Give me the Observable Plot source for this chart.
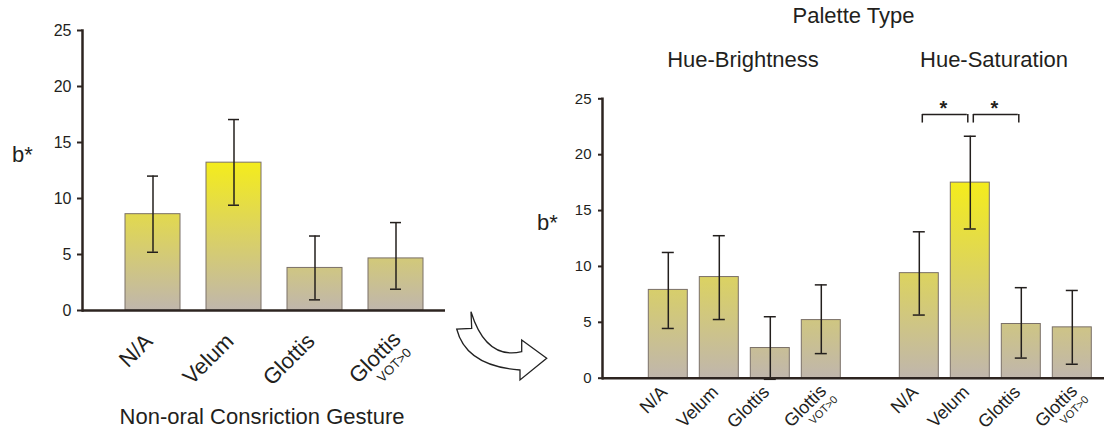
<!DOCTYPE html>
<html><head><meta charset="utf-8">
<script src="https://cdn.jsdelivr.net/npm/d3@7"></script>
<script src="https://cdn.jsdelivr.net/npm/@observablehq/plot@0.6"></script>
<style>
body{margin:0;background:#fff;}
#wrap{position:relative;width:1104px;height:433px;overflow:hidden;font-family:"Liberation Sans",Arial,sans-serif;background:#fff;}
#left{position:absolute;top:0;left:0;width:460px;height:433px;}
#right{position:absolute;top:0;left:470px;width:634px;height:433px;}
#overlay{position:absolute;left:0;top:0;}
</style></head><body>
<div id="wrap"><div id="left"></div><div id="right"></div><svg id="overlay" width="1104" height="433"><defs></defs></svg></div>
<script>
// ---- data ----
const categories = ["N/A", "Velum", "Glottis", "GlottisVOT"];
const tickMain = ["N/A", "Velum", "Glottis", "Glottis"];
const tickSub = ["", "", "", "VOT>0"];
const yTicks = [0, 5, 10, 15, 20, 25];

// Left: Non-oral constriction gesture
const leftMean = [8.6, 13.2, 3.8, 4.65];
const leftLo   = [5.2, 9.4, 0.95, 1.9];
const leftHi   = [12.0, 17.05, 6.65, 7.85];

// Right: by palette type
const palettes = ["Hue-Brightness", "Hue-Saturation"];
const hbMean = [7.9, 9.05, 2.7, 5.2];
const hbLo   = [4.45, 5.25, -0.1, 2.2];
const hbHi   = [11.25, 12.75, 5.5, 8.35];
const hsMean = [9.4, 17.5, 4.85, 4.55];
const hsLo   = [5.65, 13.35, 1.8, 1.25];
const hsHi   = [13.1, 21.65, 8.1, 7.85];
const sigFrom = ["N/A", "Velum"];
const sigTo   = ["Velum", "Glottis"];
const sigPalette = "Hue-Saturation";

// ---- styles ----
const font = '"Liberation Sans", Arial, sans-serif';
const ink = "#231f1d";
const axisInk = "#2d2420";
const barStroke = "#7a7068";
const gray = "#c0b6ac", yellow = "#f4ec1c";
const defs = d3.select("#overlay defs");
function addGradients(prefix, means) {
  const max = d3.max(means);
  means.forEach((m, i) => {
    const g = defs.append("linearGradient").attr("id", prefix + i)
      .attr("x1", 0).attr("y1", 0).attr("x2", 0).attr("y2", 1);
    g.append("stop").attr("offset", 0).attr("stop-color", d3.interpolateRgb(gray, yellow)(Math.max(0, m) / max));
    g.append("stop").attr("offset", 1).attr("stop-color", gray);
  });
}

// ---- left chart ----
addGradients("Lg", leftMean);
const leftRows = categories.map((c, i) => ({
  cat: c, mean: leftMean[i], lo: leftLo[i], hi: leftHi[i],
  main: tickMain[i], sub: tickSub[i], fill: `url(#Lg${i})`
}));
const leftPlot = Plot.plot({
  width: 460, height: 433, marginLeft: 82, marginRight: 15, marginTop: 30, marginBottom: 123,
  style: {fontFamily: font, color: ink, background: "transparent"},
  x: {domain: categories, paddingInner: 0.317, paddingOuter: 0.372, align: 0.672, axis: null},
  y: {domain: [0, 25]},
  color: {type: "identity"},
  marks: [
    Plot.barY(leftRows, {x: "cat", y: "mean", fill: "fill", stroke: barStroke, strokeWidth: 1}),
    Plot.ruleX(leftRows, {x: "cat", y1: "lo", y2: "hi", stroke: ink, strokeWidth: 1.5}),
    Plot.tickY(leftRows, {x: "cat", y: "lo", insetLeft: 22, insetRight: 22, stroke: ink, strokeWidth: 1.5}),
    Plot.tickY(leftRows, {x: "cat", y: "hi", insetLeft: 22, insetRight: 22, stroke: ink, strokeWidth: 1.5}),
    Plot.ruleY([0], {stroke: axisInk, strokeWidth: 2.5}),
    Plot.frame({anchor: "left", stroke: axisInk, strokeWidth: 2.5}),
    Plot.axisY(yTicks, {tickSize: 5, tickPadding: 6, fontSize: 16, stroke: axisInk, strokeWidth: 2, label: null}),
    Plot.text(leftRows.filter(d => !d.sub), {x: "cat", y: 0, text: "main", rotate: -45, textAnchor: "end", lineAnchor: "bottom", dx: 1, dy: 32, fontSize: 22, fill: ink}),
    Plot.text(leftRows.filter(d => d.sub), {x: "cat", y: 0, text: "main", rotate: -45, textAnchor: "end", lineAnchor: "bottom", dx: 6, dy: 30, fontSize: 22, fill: ink}),
    Plot.text(leftRows.filter(d => d.sub), {x: "cat", y: 0, text: "sub", rotate: -45, textAnchor: "end", lineAnchor: "bottom", dx: 16, dy: 43, fontSize: 13, fill: ink})
  ]
});
document.getElementById("left").appendChild(leftPlot);

// ---- right chart ----
addGradients("Rg", [...hbMean, ...hsMean]);
const rightRows = [];
palettes.forEach((p, pi) => {
  const M = pi === 0 ? hbMean : hsMean, L = pi === 0 ? hbLo : hsLo, H = pi === 0 ? hbHi : hsHi;
  categories.forEach((c, i) => rightRows.push({
    pal: p, cat: c, mean: M[i], lo: L[i], hi: H[i],
    main: tickMain[i], sub: tickSub[i], fill: `url(#Rg${pi * 4 + i})`
  }));
});
const sigRows = sigFrom.map((f, i) => ({pal: sigPalette, from: f, to: sigTo[i], star: "*"}));

const rightPlot = Plot.plot({
  width: 634, height: 433, marginLeft: 131.7, marginRight: 0, marginTop: 98.3, marginBottom: 55.3,
  style: {fontFamily: font, color: ink, background: "transparent", overflow: "visible"},
  fx: {domain: palettes, padding: 0},
  x: {domain: categories, paddingInner: 0.228, paddingOuter: 0.539, align: 0.785, axis: null},
  y: {domain: [0, 25]},
  color: {type: "identity"},
  marks: [
    Plot.barY(rightRows, {fx: "pal", x: "cat", y: "mean", fill: "fill", stroke: barStroke, strokeWidth: 1}),
    Plot.ruleX(rightRows, {fx: "pal", x: "cat", y1: "lo", y2: "hi", stroke: ink, strokeWidth: 1.5}),
    Plot.tickY(rightRows, {fx: "pal", x: "cat", y: "lo", insetLeft: 13.5, insetRight: 13.5, stroke: ink, strokeWidth: 1.5}),
    Plot.tickY(rightRows, {fx: "pal", x: "cat", y: "hi", insetLeft: 13.5, insetRight: 13.5, stroke: ink, strokeWidth: 1.5}),
    Plot.ruleY([0], {stroke: axisInk, strokeWidth: 2.5}),
    Plot.frame({anchor: "left", stroke: axisInk, strokeWidth: 2.5, facet: "super"}),
    Plot.axisY(yTicks, {tickSize: 4, tickPadding: 7, fontSize: 15, stroke: axisInk, strokeWidth: 2, label: null}),
    Plot.axisFx({anchor: "top", tickSize: 0, fontSize: 22, dx: 15, dy: -23, label: "Palette Type", labelAnchor: "center", labelOffset: 91, labelArrow: "none"}),
    Plot.ruleY(sigRows, {fx: "pal", x1: "from", x2: "to", y: 23.6, insetLeft: 23, insetRight: 22.5, stroke: ink, strokeWidth: 1.5}),
    Plot.ruleX(sigRows, {fx: "pal", x: "from", y1: 22.83, y2: 23.6, dx: 3, stroke: ink, strokeWidth: 1.5}),
    Plot.ruleX(sigRows, {fx: "pal", x: "to", y1: 22.83, y2: 23.6, dx: -2.5, stroke: ink, strokeWidth: 1.5}),
    Plot.text(sigRows, {fx: "pal", x: "from", y: 24.1, text: "star", dx: 24, fontSize: 20, fontWeight: "bold", fill: ink}),
    Plot.text(rightRows.filter(d => !d.sub), {fx: "pal", x: "cat", y: 0, text: "main", rotate: -45, textAnchor: "end", lineAnchor: "bottom", dy: 15, fontSize: 18, fill: ink}),
    Plot.text(rightRows.filter(d => d.sub), {fx: "pal", x: "cat", y: 0, text: "main", rotate: -45, textAnchor: "end", lineAnchor: "bottom", dx: 6, dy: 14, fontSize: 18, fill: ink}),
    Plot.text(rightRows.filter(d => d.sub), {fx: "pal", x: "cat", y: 0, text: "sub", rotate: -45, textAnchor: "end", lineAnchor: "bottom", dx: 17, dy: 22, fontSize: 11, fill: ink})
  ]
});
document.getElementById("right").appendChild(rightPlot);

// ---- overlay: axis titles and the decorative arrow ----
const ov = d3.select("#overlay");
ov.append("text").attr("x", 12).attr("y", 162).attr("font-family", font).attr("font-size", 22).attr("fill", ink).text("b*");
ov.append("text").attr("x", 537).attr("y", 230).attr("font-family", font).attr("font-size", 22).attr("fill", ink).text("b*");
ov.append("text").attr("x", 262).attr("y", 424).attr("text-anchor", "middle").attr("font-family", font).attr("font-size", 22).attr("fill", ink).text("Non-oral Consriction Gesture");
ov.append("path")
  .attr("d", "M471,311.7 L471.7,328.3 L456.7,329 Q466,366 520,370 L520,380 L546.7,358.3 L521.7,340 L521.7,351.7 Q486,360 471,311.7 Z")
  .attr("fill", "#fff").attr("stroke", "#222").attr("stroke-width", 1.3).attr("stroke-linejoin", "miter");
</script>
</body></html>
